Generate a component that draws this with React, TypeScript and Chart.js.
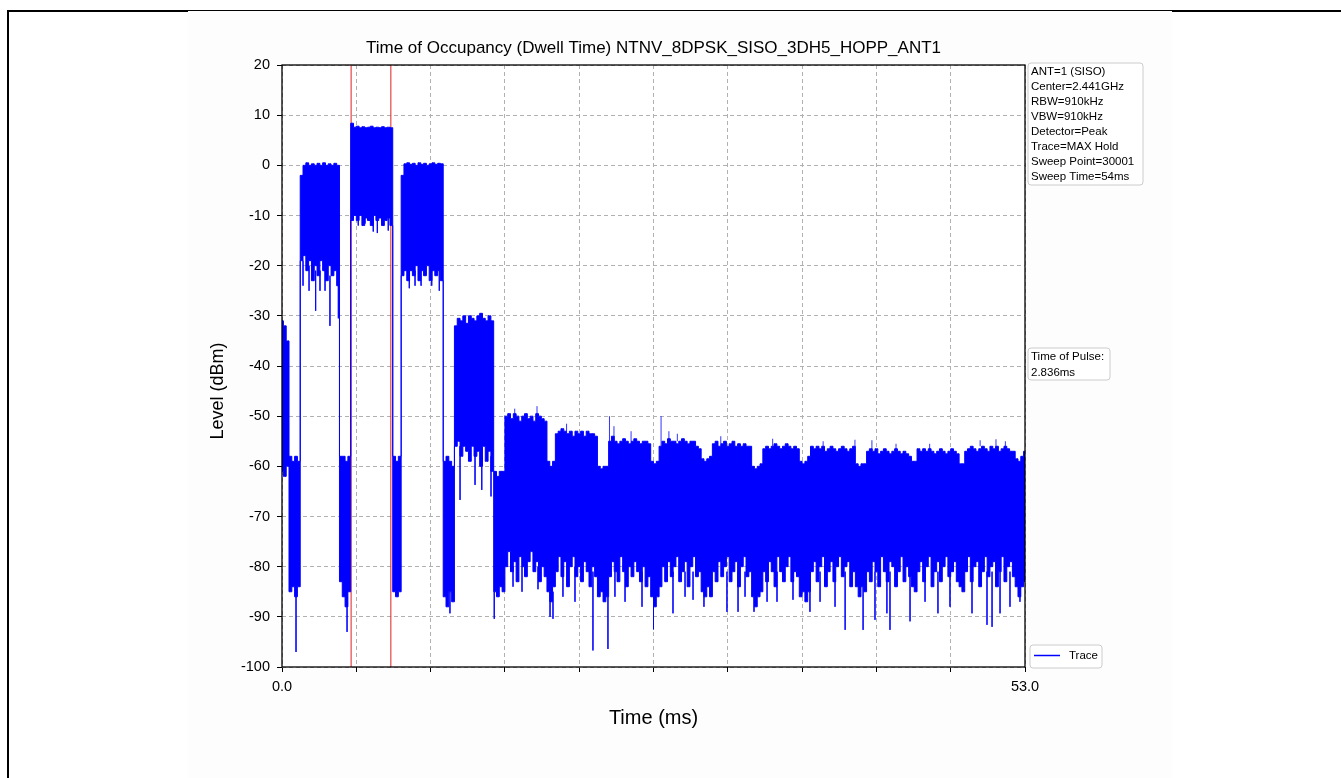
import React, { useEffect, useRef } from "react";
import { Chart, registerables } from "chart.js";

Chart.register(...registerables);

const FONT = "'Liberation Sans', Arial, Helvetica, sans-serif";

const chartTitle = "Time of Occupancy (Dwell Time) NTNV_8DPSK_SISO_3DH5_HOPP_ANT1";
const xAxisLabel = "Time (ms)";
const yAxisLabel = "Level (dBm)";

const xTickValues = [0, 5.3, 10.6, 15.9, 21.2, 26.5, 31.8, 37.1, 42.4, 47.7, 53.0];
const xTickLabelValues = [0, 53];
const yTickValues = [-100, -90, -80, -70, -60, -50, -40, -30, -20, -10, 0, 10, 20];

// sweep resampled every 0.2 ms (0 .. 53 ms): max-hold peak and floor of each bin
const sampleStepMs = 0.2;
const traceMaxDbm = [
  -31, -32, -35, -58, -59, -58, -59, -2, 0, 0.5,
  0, 0.3, 0, 0.4, 0, 0.5, 0, 0.3, 0, 0.4,
  0, -58, -58, -59, -58, 8.4, 7.6, 7.8, 7.5, 7.7,
  7.5, 7.6, 7.8, 7.5, 7.6, 7.5, 7.7, 7.5, 7.6, 7.5,
  -58, -59, -58, -2, 0.3, 0.5, 0.2, 0.4, 0, 0.5,
  0.2, 0.4, 0, 0.3, 0.5, 0.2, 0.4, 0.3, -59, -58,
  -59, -60, -32, -30.5, -31, -30, -31.5, -30, -30.5, -31,
  -30, -29.5, -30.5, -31, -30, -31, -61, -62, -61, -61,
  -50, -49.5, -50.5, -49.5, -50, -51, -50, -49.5, -50.5, -50,
  -51, -49.5, -50, -50.5, -51, -59, -60, -59, -53.5, -53,
  -52.5, -53, -53.5, -53, -54, -53, -53.5, -53, -54, -53,
  -53.5, -53.5, -54, -60, -60.5, -60, -60, -55, -54, -55,
  -55.5, -55, -54.5, -55, -55.5, -55, -54.5, -55, -55.5, -55,
  -55, -55.5, -59, -59.5, -59, -56, -55, -55.5, -54.5, -55,
  -55, -55.5, -55, -54.5, -55, -55.5, -55, -55, -56, -56.5,
  -58.5, -59, -58.5, -58, -55.5, -55, -56, -55.5, -55, -56,
  -55.5, -55, -56, -55.5, -56, -55.5, -56, -56, -60, -60.5,
  -60, -59.5, -56.5, -56, -56.5, -56, -55.5, -56, -56.5, -56,
  -55.5, -56, -56.5, -56, -56.5, -59, -59.5, -59, -58, -56,
  -56.5, -56, -56.5, -56, -57, -56.5, -56, -56.5, -57, -56.5,
  -56, -56.5, -57, -56.5, -56, -59.5, -60, -59.5, -59.5, -57,
  -56.5, -57, -56.5, -57.5, -57, -56.5, -57, -57.5, -57, -56.5,
  -57, -57.5, -57, -57.5, -58, -59, -59, -56.5, -57, -56.5,
  -57, -56.5, -57, -57.5, -57, -56.5, -57, -57.5, -57, -56.5,
  -57, -57.5, -59.5, -59.5, -57, -56.5, -56, -56.5, -57, -56.5,
  -56, -56.5, -57, -56, -56.5, -56, -57, -56.5, -56, -56.5,
  -57, -57, -58.5, -59, -58, -57,
];
const traceMinDbm = [
  -61, -62, -60, -85, -84, -86, -84, -19, -18, -21,
  -19, -23, -20, -22, -19, -21, -23, -20, -22, -21,
  -24, -83, -86, -88, -85, -11, -10, -11, -10, -12,
  -10.5, -11, -12, -10, -11, -10.5, -12, -11, -10.5, -12,
  -85, -86, -85, -22, -21, -23, -21, -22, -20, -23,
  -21, -22, -20, -23, -21, -22, -21, -23, -86, -88,
  -85, -87, -56, -55, -58, -56, -57, -59, -56, -58,
  -57, -60, -56, -59, -57, -61, -85, -86, -84, -85,
  -80, -77, -81, -79, -83, -78, -80, -82, -79, -77,
  -81, -79, -83, -80, -82, -85, -87, -84, -81, -78,
  -82, -79, -84, -80, -78, -82, -80, -83, -79, -81,
  -84, -80, -82, -86, -85, -87, -86, -82, -79, -81,
  -83, -78, -81, -84, -80, -82, -79, -81, -83, -80,
  -84, -82, -86, -88, -86, -84, -80, -83, -79, -82,
  -80, -78, -83, -81, -79, -84, -80, -78, -82, -81,
  -85, -86, -84, -86, -81, -83, -79, -82, -80, -78,
  -83, -81, -79, -84, -80, -78, -82, -81, -86, -88,
  -86, -85, -81, -83, -79, -81, -84, -78, -81, -83,
  -80, -78, -83, -81, -82, -86, -85, -87, -85, -81,
  -79, -83, -80, -78, -84, -81, -79, -83, -80, -78,
  -82, -80, -79, -84, -81, -84, -86, -84, -85, -81,
  -83, -79, -81, -84, -78, -81, -83, -79, -80, -84,
  -81, -78, -83, -80, -82, -84, -85, -81, -79, -83,
  -80, -78, -84, -81, -79, -83, -80, -78, -82, -81,
  -79, -83, -84, -85, -81, -78, -83, -80, -79, -84,
  -81, -78, -82, -80, -79, -84, -81, -78, -83, -80,
  -79, -82, -84, -86, -84, -83,
];

// isolated single-sample excursions of the trace (time, from level, to level)
const spikeTimesMs = [
  1.0, 1.5, 1.93, 2.4, 2.71, 3.07, 3.42, 4.02, 4.64, 5.44,
  5.92, 6.51, 6.8, 7.58, 9.08, 9.49, 9.92, 10.68, 11.22, 11.98,
  12.7, 13.77, 14.25, 14.91, 15.14, 16.48, 17.12, 18.26, 19.12, 19.33,
  20.04, 20.9, 22.18, 23.25, 23.75, 24.47, 25.68, 26.5, 27.89, 28.75,
  29.32, 30.1, 31.74, 32.53, 33.03, 33.67, 34.6, 35.31, 36.45, 37.66,
  38.38, 39.45, 40.17, 41.45, 42.3, 43.15, 43.37, 44.8, 45.87, 46.79,
  47.65, 49.22, 50.29, 50.65, 51.22, 51.93, 52.64,
  18.19, 23.36, 23.68, 27.04, 40.87, 42.08, 50.93,
  16.6, 20.3, 24.9, 27.6, 28.2, 31.3, 35.0, 38.6, 43.8, 46.2, 49.8, 51.6,
];
const spikeFromDbm = [
  -84, -19, -20, -21, -21, -20, -22, -22, -86, -10,
  -10, -10, -10, -10, -21, -21, -21, -21, -21, -85,
  -56, -57, -58, -58, -85, -80, -80, -80, -85, -85,
  -80, -80, -81, -86, -81, -81, -81, -86, -81, -81,
  -81, -85, -81, -81, -81, -86, -81, -81, -81, -85,
  -81, -81, -81, -84, -81, -81, -81, -81, -81, -81,
  -81, -81, -81, -81, -81, -81, -84,
  -50, -60, -55, -59, -56, -57, -56,
  -50, -53, -55, -55, -55, -55.5, -56, -56, -57, -57, -56, -56.5,
];
const spikeToDbm = [
  -97, -24, -25, -29, -25, -25, -32, -30.5, -93, -12,
  -11.6, -13.2, -13.5, -13, -24.5, -24, -24, -24, -25, -89.3,
  -66.7, -63.7, -64.7, -66, -90.4, -84, -85, -84.5, -90, -90.4,
  -86, -87, -96.7, -96.4, -86, -87, -88, -92.5, -89.3, -86,
  -86.6, -88, -89, -89, -86, -89, -87, -87, -86.6, -89,
  -87, -88, -92.6, -92.6, -90.6, -89.3, -92.6, -90.9, -87, -89.3,
  -88, -89.3, -91.6, -92, -89.3, -88, -87,
  -48, -50, -52, -50, -54.7, -54.8, -54.6,
  -48.5, -51.5, -53, -53, -53.5, -54, -54.5, -55, -55.5, -55.5, -54.8, -55,
];

// red markers delimiting the measured pulse
const markerTimesMs = [4.93, 7.766];

const infoLines = [
  "ANT=1 (SISO)",
  "Center=2.441GHz",
  "RBW=910kHz",
  "VBW=910kHz",
  "Detector=Peak",
  "Trace=MAX Hold",
  "Sweep Point=30001",
  "Sweep Time=54ms",
];
const pulseLines = ["Time of Pulse:", "2.836ms"];
const legendLabel = "Trace";

function roundedBox(ctx: CanvasRenderingContext2D, x: number, y: number, w: number, h: number, r: number) {
  ctx.beginPath();
  ctx.moveTo(x + r, y);
  ctx.lineTo(x + w - r, y);
  ctx.arcTo(x + w, y, x + w, y + r, r);
  ctx.lineTo(x + w, y + h - r);
  ctx.arcTo(x + w, y + h, x + w - r, y + h, r);
  ctx.lineTo(x + r, y + h);
  ctx.arcTo(x, y + h, x, y + h - r, r);
  ctx.lineTo(x, y + r);
  ctx.arcTo(x, y, x + r, y, r);
  ctx.closePath();
  ctx.fillStyle = "rgba(255,255,255,0.85)";
  ctx.fill();
  ctx.strokeStyle = "#cccccc";
  ctx.lineWidth = 1;
  ctx.stroke();
}

const decorPlugin = {
  id: "decor",
  beforeDraw(chart: any) {
    const { ctx, chartArea: a, width, height } = chart;
    ctx.save();
    ctx.fillStyle = "#fdfdfd";
    ctx.fillRect(0, 0, width, height);
    ctx.fillStyle = "#ffffff";
    ctx.fillRect(a.left, a.top, a.right - a.left, a.bottom - a.top);
    ctx.restore();
  },
  afterDraw(chart: any) {
    const { ctx, chartArea: a } = chart;
    ctx.save();
    ctx.strokeStyle = "#000";
    ctx.lineWidth = 1.3;
    ctx.strokeRect(a.left, a.top, a.right - a.left, a.bottom - a.top);

    ctx.fillStyle = "#000";
    ctx.textAlign = "center";
    ctx.textBaseline = "middle";
    ctx.font = `17px ${FONT}`;
    ctx.fillText(chartTitle, (a.left + a.right) / 2, a.top - 17);
    ctx.font = `20px ${FONT}`;
    ctx.fillText(xAxisLabel, (a.left + a.right) / 2, a.bottom + 51);
    ctx.font = `18px ${FONT}`;
    ctx.save();
    ctx.translate(a.left - 64, (a.top + a.bottom) / 2 + 25);
    ctx.rotate(-Math.PI / 2);
    ctx.fillText(yAxisLabel, 0, 0);
    ctx.restore();

    // info box
    ctx.textAlign = "left";
    ctx.font = `11.5px ${FONT}`;
    const b1x = a.right + 3;
    const b1y = a.top - 2;
    roundedBox(ctx, b1x, b1y, 115, 122, 3);
    ctx.fillStyle = "#000";
    infoLines.forEach((t, i) => ctx.fillText(t, b1x + 3, b1y + 8.5 + i * 15));

    // pulse box
    const b2x = a.right + 3;
    const b2y = a.top + 283;
    roundedBox(ctx, b2x, b2y, 82, 32, 3);
    ctx.fillStyle = "#000";
    pulseLines.forEach((t, i) => ctx.fillText(t, b2x + 3, b2y + 9 + i * 16));

    // legend box
    const b3x = a.right + 5;
    const b3y = a.bottom - 22;
    roundedBox(ctx, b3x, b3y, 72, 23, 3);
    ctx.strokeStyle = "#0000ff";
    ctx.lineWidth = 1.5;
    ctx.beginPath();
    ctx.moveTo(b3x + 4, b3y + 10.5);
    ctx.lineTo(b3x + 30, b3y + 10.5);
    ctx.stroke();
    ctx.fillStyle = "#000";
    ctx.fillText(legendLabel, b3x + 39, b3y + 11);
    ctx.restore();
  },
};

export default function App() {
  const canvasRef = useRef<HTMLCanvasElement>(null);

  useEffect(() => {
    const canvas = canvasRef.current;
    if (!canvas) return;
    Chart.defaults.font.family = FONT;

    const times = traceMaxDbm.map((_, i) => Math.round(i * sampleStepMs * 100) / 100);
    const maxPts = times.map((t, i) => ({ x: t, y: traceMaxDbm[i] }));
    const minPts = times.map((t, i) => ({ x: t, y: traceMinDbm[i] }));
    const spikePts: { x: number; y: number | null }[] = [];
    spikeTimesMs.forEach((t, i) => {
      spikePts.push({ x: t, y: spikeFromDbm[i] }, { x: t, y: spikeToDbm[i] }, { x: t, y: null });
    });

    const gridOpts = {
      color: "#b0b0b0",
      lineWidth: 1,
      drawTicks: true,
      tickLength: 5,
      tickColor: "#000",
      tickWidth: 1,
      tickBorderDash: [],
    };

    const chart = new Chart(canvas, {
      type: "line",
      data: {
        datasets: [
          {
            label: legendLabel,
            data: maxPts,
            borderColor: "#0000ff",
            backgroundColor: "#0000ff",
            borderWidth: 1,
            pointRadius: 0,
            fill: false,
            stepped: "middle",
          },
          {
            label: "floor",
            data: minPts,
            borderColor: "#0000ff",
            backgroundColor: "#0000ff",
            borderWidth: 1,
            pointRadius: 0,
            fill: "-1",
            stepped: "middle",
          },
          {
            label: "spikes",
            data: spikePts,
            borderColor: "rgba(0,0,255,0.8)",
            borderWidth: 1,
            pointRadius: 0,
            fill: false,
            spanGaps: false,
          },
          ...markerTimesMs.map((t) => ({
            label: "marker",
            data: [
              { x: t, y: -100 },
              { x: t, y: 20 },
            ],
            borderColor: "#e02020",
            borderWidth: 1,
            pointRadius: 0,
            fill: false,
          })),
        ] as any,
      },
      options: {
        animation: false,
        responsive: false,
        devicePixelRatio: 1,
        events: [],
        layout: { padding: { left: 0, top: 54, right: 147, bottom: 11 } },
        plugins: {
          legend: { display: false },
          title: { display: false },
          tooltip: { enabled: false },
        },
        scales: {
          x: {
            type: "linear",
            min: 0,
            max: 53,
            afterBuildTicks: (s: any) => {
              s.ticks = xTickValues.map((v) => ({ value: v }));
            },
            afterFit: (s: any) => {
              s.height = 100;
              s.paddingLeft = 0;
              s.paddingRight = 0;
            },
            ticks: {
              autoSkip: false,
              maxRotation: 0,
              padding: 6,
              color: "#000",
              font: { size: 14.5 },
              callback: (v: any) => (xTickLabelValues.includes(Number(v)) ? Number(v).toFixed(1) : ""),
            },
            grid: gridOpts,
            border: { display: false, dash: [4, 3] },
          },
          y: {
            type: "linear",
            min: -100,
            max: 20,
            afterBuildTicks: (s: any) => {
              s.ticks = yTickValues.map((v) => ({ value: v }));
            },
            afterFit: (s: any) => {
              s.width = 94;
              s.paddingTop = 0;
              s.paddingBottom = 0;
            },
            ticks: {
              padding: 7,
              color: "#000",
              font: { size: 14.5 },
              callback: (v: any) => String(v),
            },
            grid: gridOpts,
            border: { display: false, dash: [4, 3] },
          },
        },
      } as any,
      plugins: [decorPlugin],
    });

    return () => chart.destroy();
  }, []);

  return (
    <div style={{ position: "absolute", left: 0, top: 0, width: 1341, height: 778, overflow: "hidden", background: "#ffffff" }}>
      <div style={{ position: "absolute", left: 7, top: 10, width: 1334, height: 2, background: "#000" }} />
      <div style={{ position: "absolute", left: 7, top: 10, width: 2, height: 768, background: "#000" }} />
      <canvas
        ref={canvasRef}
        width={984}
        height={767}
        style={{ position: "absolute", left: 188, top: 11, width: 984, height: 767 }}
      />
    </div>
  );
}
